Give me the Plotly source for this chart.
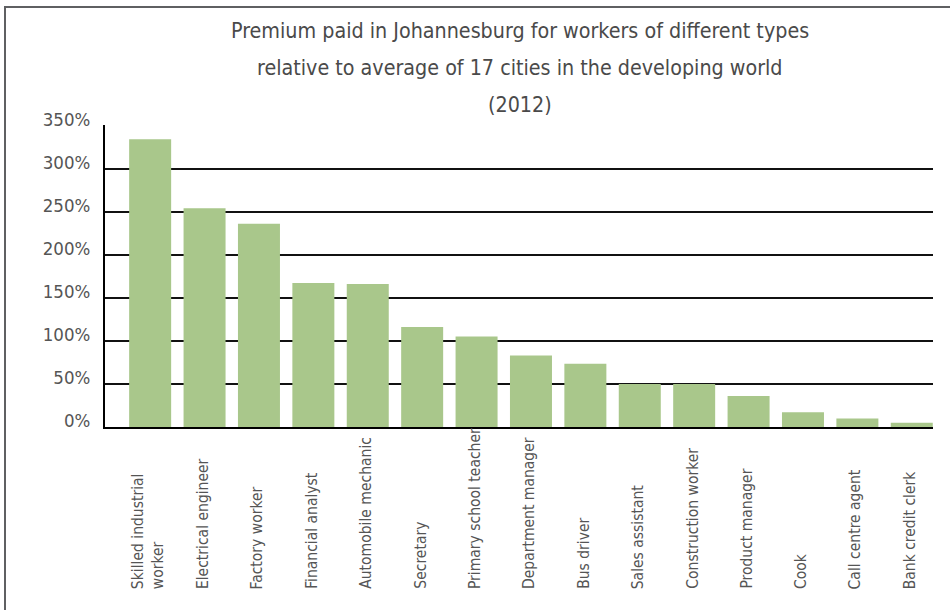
import plotly.graph_objects as go

categories = [
    "Skilled industrial<br>worker", "Electrical engineer", "Factory worker",
    "Financial analyst", "Automobile mechanic", "Secretary",
    "Primary school teacher", "Department manager", "Bus driver",
    "Sales assistant", "Construction worker", "Product manager",
    "Cook", "Call centre agent", "Bank credit clerk",
]
premium_pct = [334, 254, 236, 167, 166, 116, 105, 83, 73.5, 50, 50, 36, 17, 10, 5]
y_ticks = [0, 50, 100, 150, 200, 250, 300, 350]
y_ticklabels = [f"{v}%" for v in y_ticks]
title_lines = [
    "Premium paid in Johannesburg for workers of different types",
    "relative to average of 17 cities in the developing world",
    "(2012)",
]

W, H = 950, 610
L, R, T, B = 105, 17, 125, 183
PW, PH = W - L - R, H - T - B
FONT = "DejaVu Sans Condensed, Liberation Sans Narrow, sans-serif"
GREY = "#555555"

def px_x(px):
    return (px - L) / PW

def px_y(py):
    return (H - B - py) / PH

fig = go.Figure(go.Bar(
    x=categories, y=premium_pct,
    marker=dict(color="#A9C78B", line=dict(width=0)),
    hoverinfo="x+y",
))

annotations = []
for c in categories:
    annotations.append(dict(
        x=c, xref="x", y=px_y(591), yref="paper",
        text=c, showarrow=False, textangle=-90,
        xanchor="center", yanchor="bottom", align="left",
        xshift=-2,
        font=dict(family=FONT, size=15.5, color=GREY),
    ))
for line, base in zip(title_lines, [40, 77, 114]):
    annotations.append(dict(
        x=px_x(520), xref="paper", y=px_y(base + 5), yref="paper",
        text=line, showarrow=False, xanchor="center", yanchor="bottom",
        font=dict(family=FONT, size=21.3, color="#4a4a4a"),
    ))

shapes = [
    dict(type="rect", xref="paper", yref="paper",
         x0=px_x(5), x1=px_x(960), y0=px_y(7), y1=px_y(620),
         line=dict(color="#5f6062", width=2), fillcolor="rgba(0,0,0,0)",
         layer="below"),
]

fig.update_layout(
    width=W, height=H,
    margin=dict(l=L, r=R, t=T, b=B),
    paper_bgcolor="white", plot_bgcolor="white",
    showlegend=False,
    bargap=0.228,
    annotations=annotations,
    shapes=shapes,
    font=dict(family=FONT, color=GREY),
)
fig.update_xaxes(
    type="category", range=[-0.83, 14.39],
    showticklabels=False, showgrid=False, ticks="",
    showline=True, linecolor="#000000", linewidth=2,
)
fig.update_yaxes(
    range=[0, 350.5], tickvals=y_ticks, ticktext=y_ticklabels,
    showgrid=True, gridcolor="#111111", gridwidth=1.6,
    showline=True, linecolor="#000000", linewidth=2,
    zeroline=False, ticks="", ticklabelstandoff=9, ticklabelshift=-6,
    tickfont=dict(family=FONT, size=18.5, color=GREY),
)

fig.write_html("out.html", config={"displayModeBar": False},
               post_script="document.body.style.margin='0';")
